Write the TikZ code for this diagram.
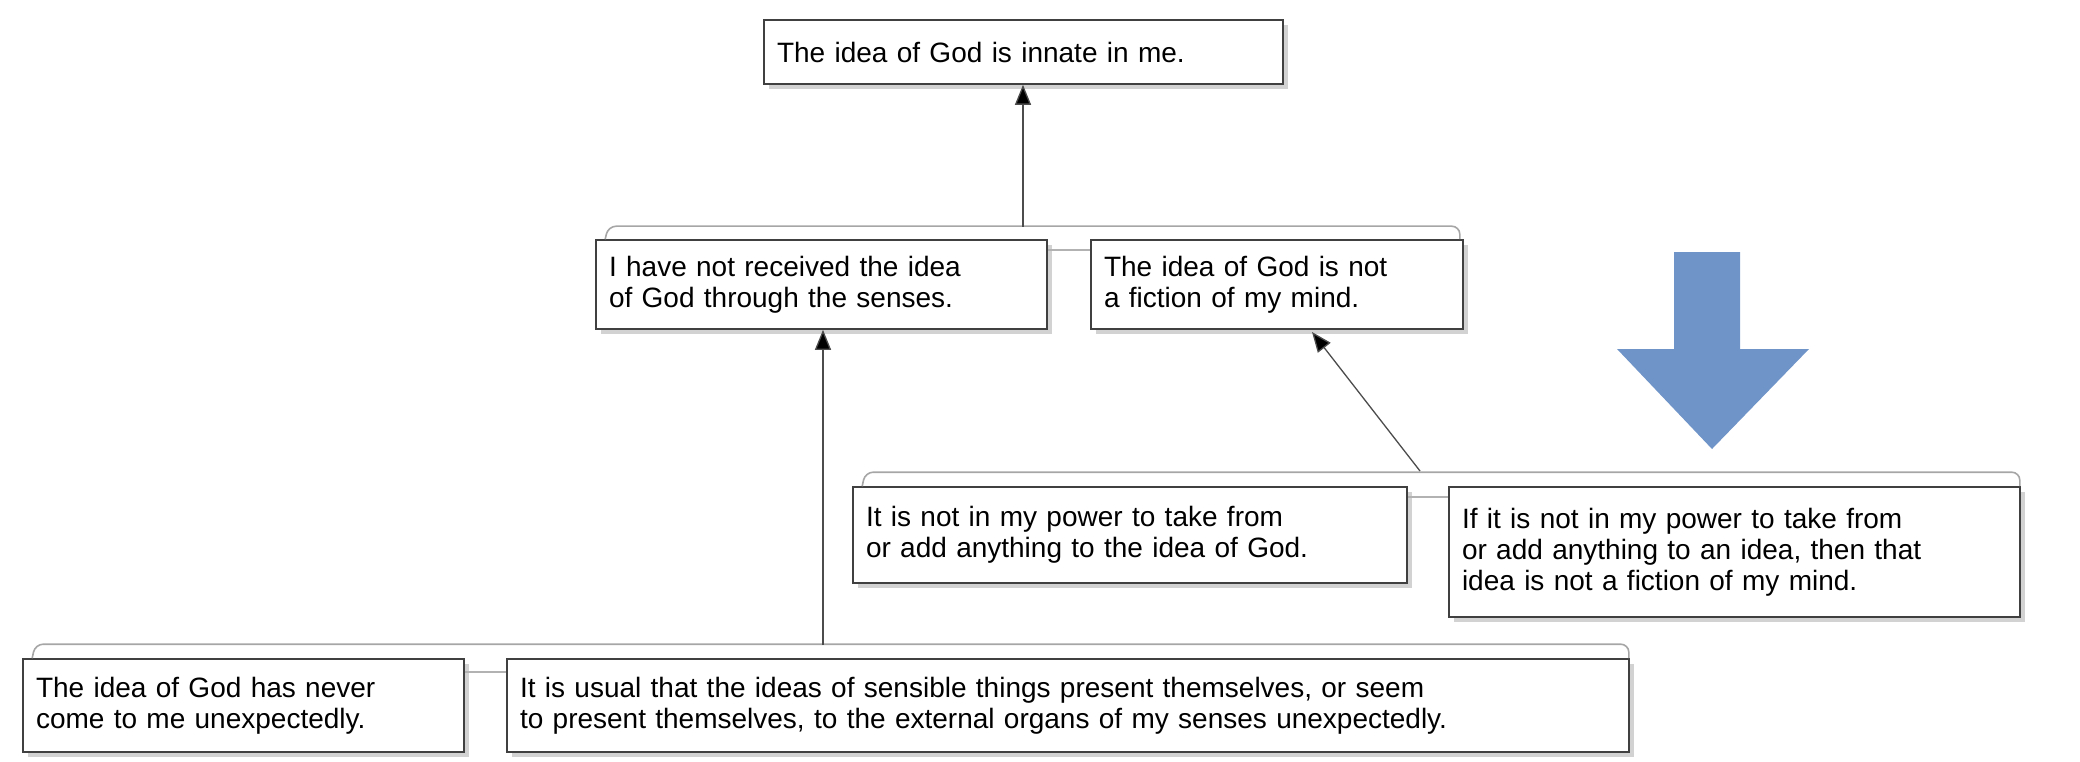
\documentclass[tikz,border=0pt]{standalone}
\usepackage{fontspec}
\setmainfont{Liberation Sans}
\usetikzlibrary{shadows,arrows.meta}
\begin{document}
\begin{tikzpicture}[x=1pt,y=-1pt,
  box/.style={draw=black!75,line width=1.6pt,fill=white,align=left,inner sep=0pt,
    font=\fontsize{28}{31}\selectfont,
    drop shadow={shadow xshift=5pt,shadow yshift=-5pt,fill=black!35,opacity=.5}},
  brk/.style={draw=black!35,line width=1.6pt,rounded corners=8pt},
  conn/.style={draw=black!70,line width=1.3pt,-{Triangle[length=20pt,width=16pt,fill=black]}},
  joinln/.style={draw=black!30,line width=1.6pt}]
\useasboundingbox (0,0) rectangle (2080,762);
\newcommand{\bx}[6]{%
  \pgfmathsetmacro{\bw}{#4-#2}\pgfmathsetmacro{\bh}{#5-#3}\pgfmathsetmacro{\tw}{#4-#2-26}%
  \pgfmathsetmacro{\cx}{(#2+#4)/2}\pgfmathsetmacro{\cy}{(#3+#5)/2}%
  \node[box,minimum width=\bw pt,minimum height=\bh pt,text width=\tw pt] (#1) at (\cx,\cy) {#6};}
\bx{A}{764}{20}{1283}{84}{The idea of God is innate in me.}
\bx{B}{596}{240}{1047}{329}{I have not received the idea\\of God through the senses.}
\bx{C}{1091}{240}{1463}{329}{The idea of God is not\\a fiction of my mind.}
\bx{D}{853}{487}{1407}{583}{It is not in my power to take from\\or add anything to the idea of God.}
\bx{E}{1449}{487}{2020}{617}{If it is not in my power to take from\\or add anything to an idea, then that\\idea is not a fiction of my mind.}
\bx{F}{23}{659}{464}{752}{The idea of God has never\\come to me unexpectedly.}
\bx{G}{507}{659}{1629}{752}{It is usual that the ideas of sensible things present themselves, or seem\\to present themselves, to the external organs of my senses unexpectedly.}
% brackets
\draw[brk] (B.north west) ++(10,0) -- ++(3,-13) -| ([xshift=-4pt]C.north east);
\draw[brk] (D.north west) ++(10,0) -- ++(3,-14) -| ([xshift=-1pt]E.north east);
\draw[brk] (F.north west) ++(10,0) -- ++(3,-14) -| ([xshift=-1pt]G.north east);
\draw[joinln] (B.east |- 0,250) -- (C.west |- 0,250);
\draw[joinln] (D.east |- 0,497) -- (E.west |- 0,497);
\draw[joinln] (F.east |- 0,672) -- (G.west |- 0,672);
\coordinate (bc) at (1023,227);
\coordinate (de) at (1420,471);
\coordinate (fg) at (823,645);
\draw[conn] (bc) -- (A.south -| bc);
\draw[conn] (de) -- (1312,332);
\draw[conn] (fg) -- (B.south -| fg);
% blue arrow
\fill[fill={rgb,255:red,111;green,148;blue,200}] (1674,252) -- (1740,252) -- (1740,349) -- (1809,349) -- (1712,449) -- (1617,349) -- (1674,349) -- cycle;
\end{tikzpicture}
\end{document}
